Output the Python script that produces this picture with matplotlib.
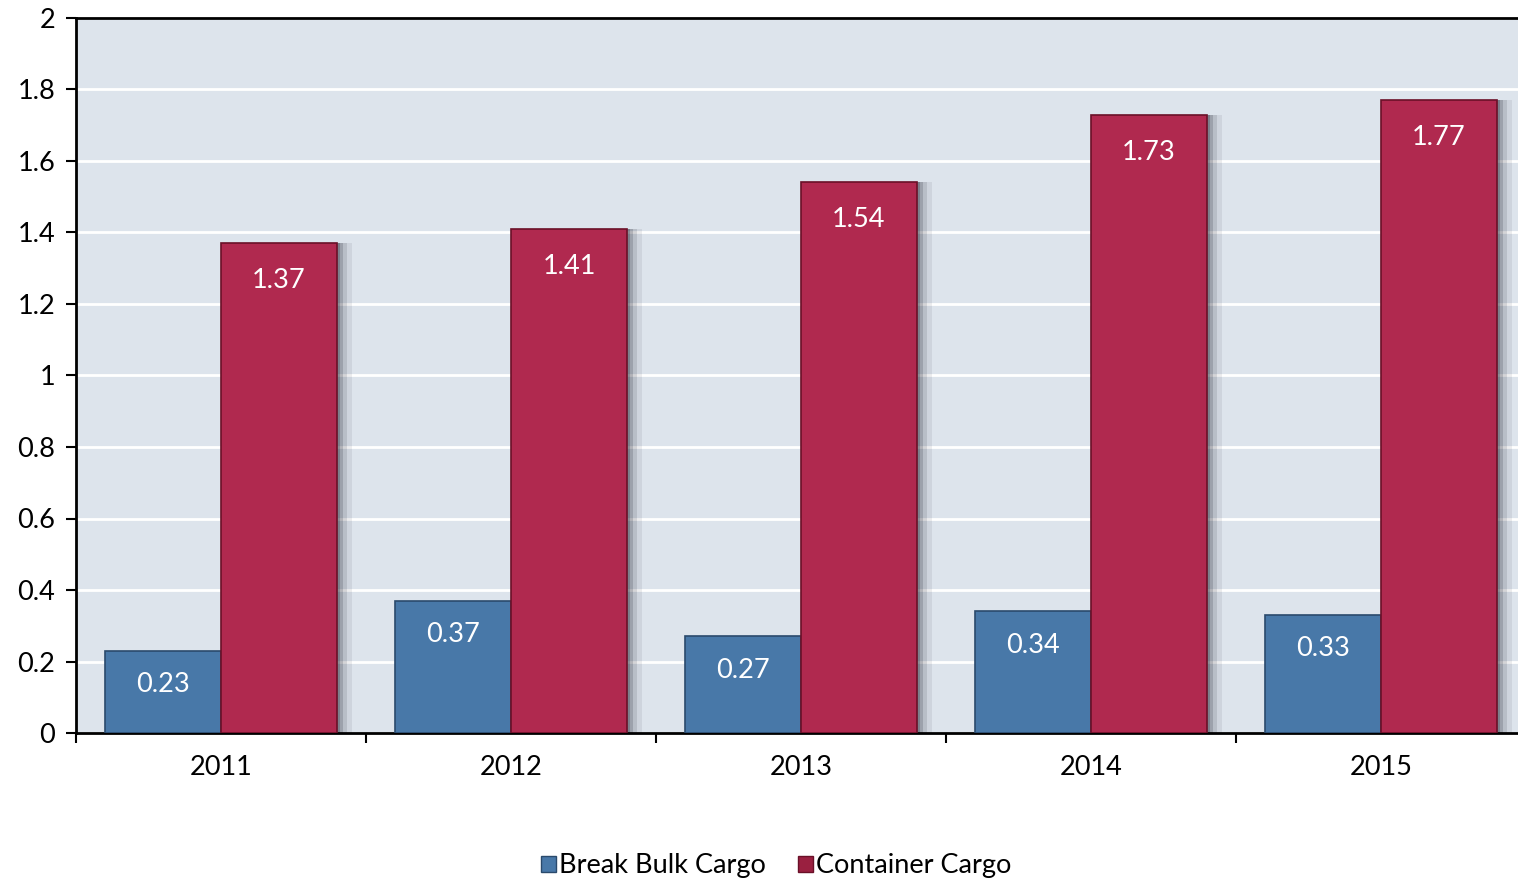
import matplotlib
matplotlib.use("Agg")
import matplotlib.pyplot as plt
import numpy as np
from matplotlib.patches import Patch

years = ["2011", "2012", "2013", "2014", "2015"]
break_bulk = [0.23, 0.37, 0.27, 0.34, 0.33]
container = [1.37, 1.41, 1.54, 1.73, 1.77]
yticks = [0, 0.2, 0.4, 0.6, 0.8, 1, 1.2, 1.4, 1.6, 1.8, 2]
ytick_labels = ["0", "0.2", "0.4", "0.6", "0.8", "1", "1.2", "1.4", "1.6", "1.8", "2"]

plt.rcParams['font.family'] = ['Lato', 'DejaVu Sans']

fig = plt.figure(figsize=(15.18, 8.84), dpi=100)
ax = fig.add_axes([76/1518, 151/884, 1450/1518, (733-18)/884])
ax.set_facecolor("#dde4ec")

x = np.arange(len(years))
w = 0.4
blue = "#4878a8"
red = "#b0294f"
fs = 19.5

# shadows
for xs, vals in [(x - w/2, break_bulk), (x + w/2, container)]:
    for dx, a in [(0.05, 0.08), (0.035, 0.12), (0.022, 0.18), (0.012, 0.25)]:
        ax.bar(xs + dx, vals, w, color="#202030", alpha=a, zorder=2, linewidth=0)

ax.bar(x - w/2, break_bulk, w, color=blue, edgecolor="#2a4a6c", linewidth=1.2, zorder=3)
ax.bar(x + w/2, container, w, color=red, edgecolor="#6a1028", linewidth=1.2, zorder=3)

for xi, v in zip(x - w/2, break_bulk):
    ax.text(xi, v - 0.095, f"{v:.2f}", ha="center", va="center", color="white", fontsize=fs, zorder=5)
for xi, v in zip(x + w/2, container):
    ax.text(xi, v - 0.105, f"{v:.2f}", ha="center", va="center", color="white", fontsize=fs, zorder=5)

ax.set_xlim(-0.5, len(years) - 0.5)
ax.set_ylim(0, 2)
ax.set_yticks(yticks)
ax.set_yticklabels(ytick_labels, fontsize=fs)
ax.yaxis.grid(True, color="white", linewidth=2, zorder=1)
ax.set_axisbelow(True)

ax.set_xticks(x)
ax.set_xticklabels(years, fontsize=fs)
ax.tick_params(axis="x", which="major", length=0, pad=16)
ax.set_xticks(np.arange(-0.5, len(years) + 0.5, 1), minor=True)
ax.tick_params(axis="x", which="minor", length=7, width=1.5, direction="out")
ax.tick_params(axis="y", length=7, width=1.5, direction="out", pad=8)

for s in ["left", "bottom", "top"]:
    ax.spines[s].set_color("black")
    ax.spines[s].set_linewidth(2)
ax.spines["right"].set_visible(False)

handles = [Patch(facecolor=blue, edgecolor="#2a4a6c"), Patch(facecolor="#9a2040", edgecolor="#6a1028")]
fig.legend(handles, ["Break Bulk Cargo", "Container Cargo"], loc="center", bbox_to_anchor=(776/1518, 1 - 866/884),
           ncol=2, frameon=False, fontsize=fs, handlelength=0.55, handleheight=0.55, handletextpad=0.1, columnspacing=1.2)

fig.savefig("out.png", dpi=100)
